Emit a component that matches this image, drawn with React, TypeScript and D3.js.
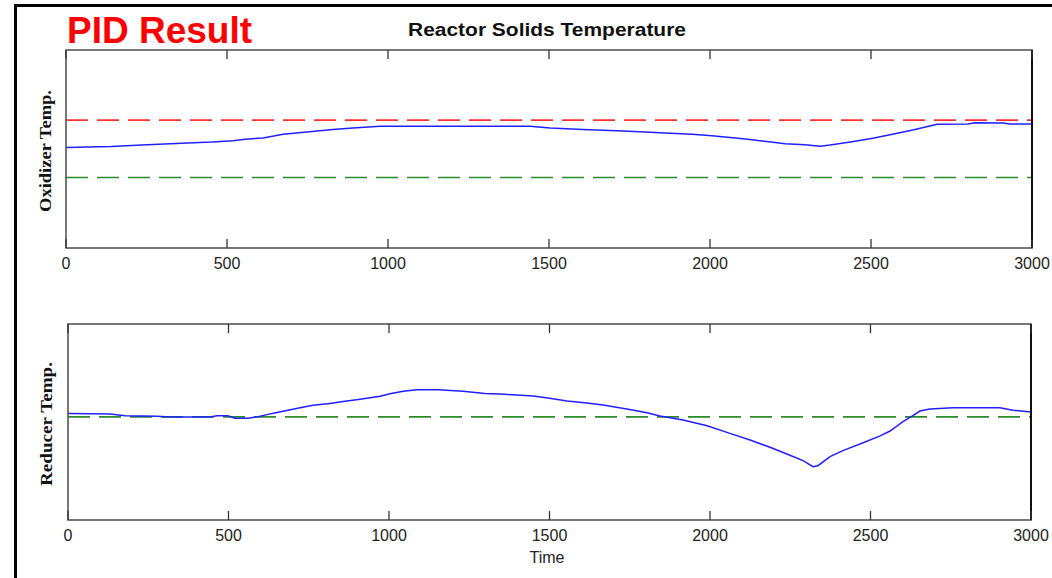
import React from "react";
import * as d3 from "d3";

const xTicks = [0, 500, 1000, 1500, 2000, 2500, 3000];

const oxTime = [0, 140, 252, 360, 453, 519, 556, 612, 674, 748, 829, 891, 975, 1062, 1441, 1503, 1606, 1711, 1798, 1876, 1944, 2006, 2087, 2130, 2196, 2233, 2295, 2342, 2373, 2441, 2506, 2559, 2630, 2705, 2801, 2823, 2910, 2932, 3000];
const oxTemp = [50.7, 51.3, 52.2, 52.9, 53.5, 54.2, 54.9, 55.6, 57.4, 58.6, 59.9, 60.6, 61.5, 61.5, 61.5, 60.6, 59.9, 59.2, 58.6, 57.9, 57.4, 56.7, 55.4, 54.7, 53.4, 52.7, 52.2, 51.4, 52.0, 53.7, 55.4, 57.2, 59.6, 62.5, 62.6, 63.3, 63.1, 62.6, 62.6];
const oxHigh = 64.6;
const oxLow = 35.6;

const redTime = [0, 131, 178, 277, 318, 442, 464, 498, 520, 561, 592, 623, 651, 685, 723, 763, 816, 857, 910, 972, 1003, 1044, 1087, 1153, 1231, 1299, 1361, 1449, 1495, 1555, 1617, 1667, 1741, 1804, 1844, 1916, 1991, 2062, 2125, 2187, 2249, 2290, 2321, 2336, 2374, 2414, 2477, 2530, 2561, 2601, 2632, 2654, 2685, 2757, 2903, 2944, 3000];
const redTemp = [54.4, 54.1, 53.2, 52.9, 52.6, 52.6, 53.2, 53.2, 51.9, 51.9, 52.7, 53.9, 54.9, 56.0, 57.3, 58.5, 59.5, 60.4, 61.6, 63.1, 64.4, 65.7, 66.5, 66.5, 65.7, 64.6, 64.1, 63.3, 62.2, 60.7, 59.7, 58.7, 56.6, 54.7, 53.1, 51.0, 48.1, 44.2, 40.8, 37.1, 33.0, 30.3, 27.2, 27.7, 32.3, 35.4, 39.4, 42.9, 45.4, 50.2, 53.2, 55.6, 56.6, 57.3, 57.3, 56.0, 55.1];
const redSet = 52.6;

const tickFont = "'Liberation Sans', Arial, sans-serif";

function Panel(props: {
  left: number; right: number; top: number; bottom: number;
  time: number[]; temp: number[]; refs: { v: number; c: string }[];
  ylabel: string; labelLen: number; labelX: number;
}) {
  const { left, right, top, bottom, time, temp, refs, ylabel, labelLen, labelX } = props;
  const x = d3.scaleLinear().domain([0, 3000]).range([left, right]);
  const y = d3.scaleLinear().domain([0, 100]).range([bottom, top]);
  const line = d3.line<number>().x((_, i) => x(time[i])).y((d) => y(d));
  return (
    <g>
      {refs.map((r, i) => (
        <line key={i} x1={left} x2={right} y1={y(r.v)} y2={y(r.v)} stroke={r.c}
          strokeWidth={1.6} strokeDasharray="22 9" />
      ))}
      <path d={line(temp) || ""} fill="none" stroke="#2020ff" strokeWidth={1.5} />
      <rect x={left} y={top} width={right - left} height={bottom - top} fill="none" stroke="#555" strokeWidth={1.6} />
      <line x1={right} x2={right} y1={top} y2={bottom} stroke="#111" strokeWidth={2} />
      {xTicks.map((t) => (
        <g key={t}>
          <line x1={x(t)} x2={x(t)} y1={bottom} y2={bottom - 9} stroke="#333" strokeWidth={1.3} />
          <line x1={x(t)} x2={x(t)} y1={top} y2={top + 9} stroke="#333" strokeWidth={1.3} />
          <text x={x(t)} y={bottom + 21} textAnchor="middle" fontFamily={tickFont} fontSize={16} fill="#222">{t}</text>
        </g>
      ))}
      <text transform={`translate(${labelX},${(top + bottom) / 2 + 2}) rotate(-90)`} textAnchor="middle"
        fontFamily="'Liberation Serif', 'Times New Roman', serif" fontWeight="bold" fontSize={17.5}
        textLength={labelLen} lengthAdjust="spacingAndGlyphs" fill="#111">{ylabel}</text>
    </g>
  );
}

export default function App() {
  return (
    <svg width={1052} height={578} style={{ position: "absolute", left: 0, top: 0, background: "#fff" }}>
      <rect x={0} y={0} width={1052} height={578} fill="#fff" />
      <line x1={14} x2={1052} y1={5.5} y2={5.5} stroke="#000" strokeWidth={3} />
      <line x1={15.5} x2={15.5} y1={4} y2={578} stroke="#000" strokeWidth={3} />
      <text x={67} y={43} fontFamily="'Liberation Sans', Arial, sans-serif" fontWeight="bold" fontSize={37} fill="#ff0000">PID Result</text>
      <text x={408} y={36} fontFamily="'Liberation Sans', Arial, sans-serif" fontWeight="bold" fontSize={18}
        textLength={278} lengthAdjust="spacingAndGlyphs" fill="#111">Reactor Solids Temperature</text>
      <Panel left={66} right={1032} top={50} bottom={248} time={oxTime} temp={oxTemp}
        refs={[{ v: oxHigh, c: "#ff3030" }, { v: oxLow, c: "#2a8a2a" }]} ylabel="Oxidizer Temp." labelLen={122} labelX={51} />
      <Panel left={68} right={1031} top={324} bottom={520} time={redTime} temp={redTemp}
        refs={[{ v: redSet, c: "#2a8a2a" }]} ylabel="Reducer Temp." labelLen={124} labelX={52} />
      <text x={547} y={563} textAnchor="middle" fontFamily={tickFont} fontSize={16} fill="#222">Time</text>
    </svg>
  );
}
